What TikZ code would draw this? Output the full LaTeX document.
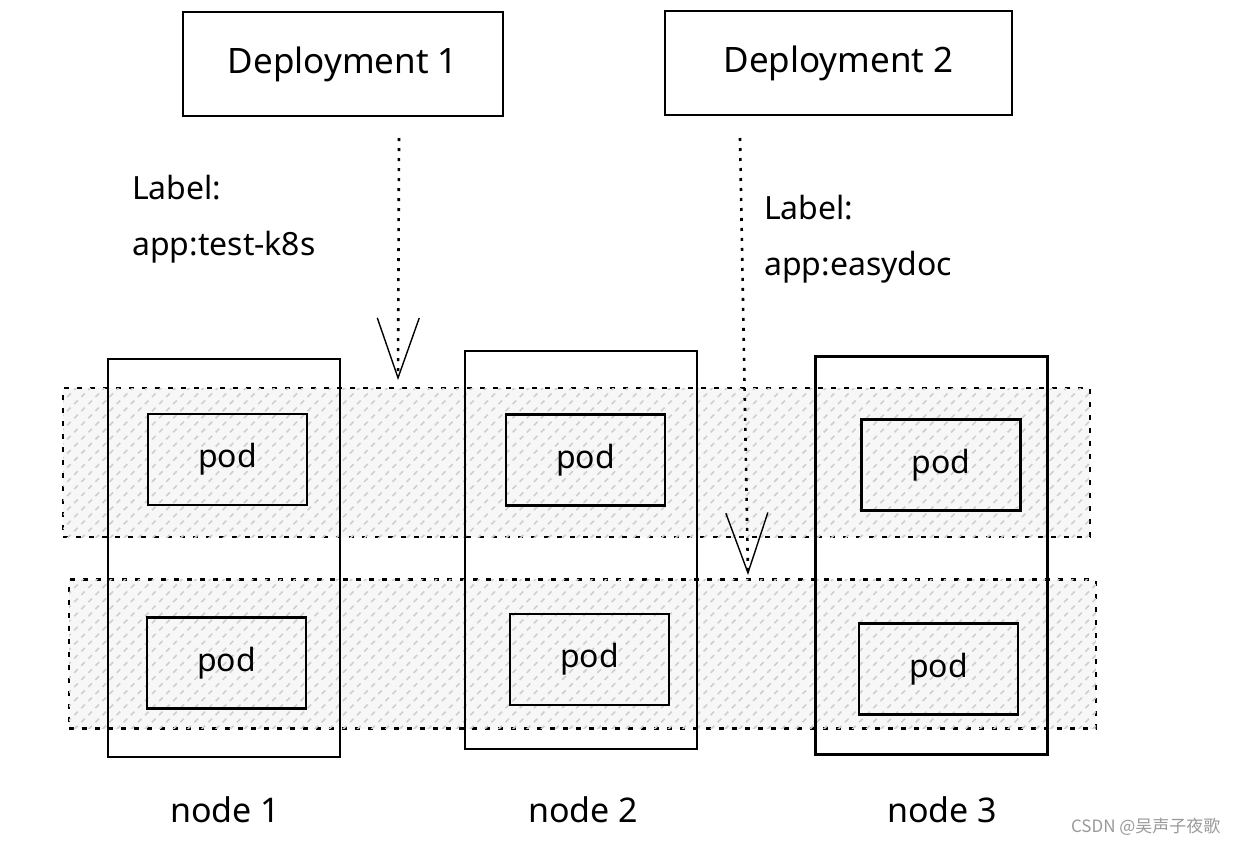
\documentclass[tikz,border=0pt]{standalone}
\usepackage{fontspec}
\setmainfont{Noto Sans}
\newfontfamily\cjkfont{Noto Sans CJK SC}
\usetikzlibrary{arrows.meta,patterns.meta}

\tikzset{
  depbox/.style={draw,line width=2.6pt,minimum height=104pt,font=\fontsize{35}{40}\selectfont},
  band/.style={draw,line width=2.8pt,dash pattern=on 5pt off 8pt,fill=gray!6,
    postaction={pattern={Lines[angle=45,distance=10pt,line width=1.6pt]},pattern color=gray!38},
    minimum width=1027pt,minimum height=149pt},
  colbox/.style={draw,line width=2.6pt,minimum width=232pt,minimum height=398pt},
  podbox/.style={draw,line width=2.6pt,minimum width=159pt,minimum height=91pt,font=\fontsize{32}{38}\selectfont},
  lbl/.style={align=left,font=\fontsize{32}{56}\selectfont,inner sep=0pt},
  dotarrow/.style={line width=2.6pt,dash pattern=on 3pt off 7pt,-{Straight Barb[length=60pt,width=42pt,line width=1.4pt]}}
}

\begin{document}
\begin{tikzpicture}[x=1pt,y=-1pt]
		\useasboundingbox (0,0) rectangle (1238,846);
		% bands
		\node[band] (band1) at (576.5,462.5) {};
		\node[band] (band2) at (582.5,654) {};
		% nodes
		\node[colbox] (col1) at (224,558) {};
		\node[colbox] (col2) at (581,550) {};
		\node[colbox] (col3) at (931.5,555.5) {};
		\foreach \n/\x in {1/225,2/583,3/942}
		\node[font=\fontsize{34}{40}\selectfont] (nl\n) at (\x,810) {node \n};
		% pods
		\node[podbox] (pod11) at (227.5,459.5) {pod};
		\node[podbox] (pod21) at (585.5,460) {pod};
		\node[podbox] (pod31) at (941,465) {pod};
		\node[podbox] (pod12) at (226.5,663) {pod};
		\node[podbox] (pod22) at (589.5,659.5) {pod};
		\node[podbox] (pod32) at (938.5,669) {pod};
		% deployments
		\node[depbox,minimum width=320pt] (dep1) at (343,64) {Deployment 1};
		\node[depbox,minimum width=347pt] (dep2) at (838.5,63) {Deployment 2};
		\node[lbl,anchor=north west] (lab1) at (132,175) {Label:\\app:test-k8s};
		\node[lbl,anchor=north west] (lab2) at (764,195) {Label:\\app:easydoc};
		% arrows
		\coordinate (a1s) at (399,138);
		\coordinate (a1e) at (398,380);
		\coordinate (a2s) at (740,138);
		\coordinate (a2e) at (748,575);
		\draw[dotarrow] (a1s) -- (a1e);
		\draw[dotarrow] (a2s) -- (a2e);
		\node[anchor=east,text=gray!80,font=\cjkfont\fontsize{17}{20}\selectfont] (mark) at (1224,827) {CSDN @吴声子夜歌};
	    \end{tikzpicture}
\end{document}
